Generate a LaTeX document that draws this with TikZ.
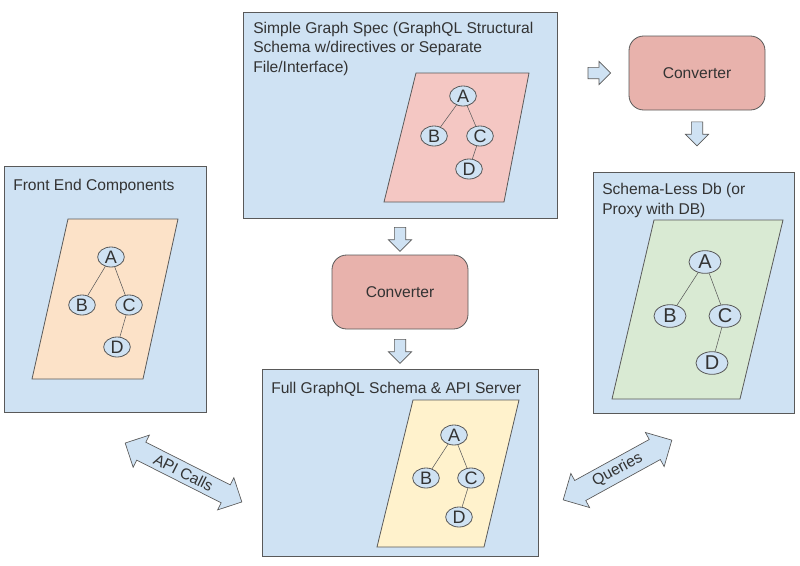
\documentclass[tikz,border=0pt]{standalone}
\usepackage{fontspec}
\setmainfont{Liberation Sans}
\usetikzlibrary{shapes.geometric,shapes.arrows}

\definecolor{boxblue}{HTML}{CFE2F3}
\definecolor{convred}{HTML}{E8B2AC}
\definecolor{linegray}{HTML}{595959}
\definecolor{textgray}{HTML}{333333}
\definecolor{pinksheet}{HTML}{F4C7C3}
\definecolor{peachsheet}{HTML}{FCE2C8}
\definecolor{greensheet}{HTML}{D9EAD3}
\definecolor{yellowsheet}{HTML}{FFF2CC}

\begin{document}
\begin{tikzpicture}[x=0.75pt,y=-0.75pt,font=\fontsize{11.7}{14.3}\selectfont,text=textgray]

\tikzset{
    panel/.style={draw=linegray,fill=boxblue,line width=0.6pt},
    sheet/.style={draw=linegray,line width=0.6pt},
    title/.style={anchor=base west,inner sep=0pt,align=left},
    conv/.style={draw=linegray,fill=convred,rounded corners=11pt,minimum width=102pt,minimum height=55.5pt,line width=0.6pt},
    leaf/.style={ellipse,draw=linegray,fill=boxblue,inner sep=0pt,minimum width=20pt,minimum height=15pt,line width=0.6pt,font=\fontsize{13.5}{14}\selectfont},
    bigleaf/.style={leaf,minimum width=24pt,minimum height=17pt,font=\fontsize{15}{16}\selectfont},
    smallarrow/.style={single arrow,draw=linegray,fill=boxblue,line width=0.5pt,inner sep=4pt,single arrow head extend=4.5pt,minimum height=18pt},
    bigarrow/.style={double arrow,draw=linegray,fill=boxblue,line width=0.5pt,inner sep=3pt,double arrow head extend=6pt}}

\useasboundingbox (0,0) rectangle (800,565);

\draw[panel] (243,12) rectangle (557,218);
\draw[panel] (4,166) rectangle (206,412);
\draw[panel] (593,172) rectangle (794,413);
\draw[panel] (262,369) rectangle (538,556);

% base west sits on the last line
\node[title] (specT) at (253,72) {Simple Graph Spec (GraphQL Structural\\Schema w/directives or Separate\\File/Interface)};
\node[title] (frontT) at (13,190) {Front End Components};
\node[title] (dbT) at (602,214) {Schema-Less Db (or\\Proxy with DB)};
\node[title] (fullT) at (271,393) {Full GraphQL Schema \& API Server};

\filldraw[sheet,fill=pinksheet] (416,73) -- (529,73) -- (504,202) -- (384,202) -- cycle;
\filldraw[sheet,fill=peachsheet] (68,219) -- (178,219) -- (143,379) -- (32,379) -- cycle;
\filldraw[sheet,fill=greensheet] (654,220) -- (783,220) -- (740,399) -- (612,399) -- cycle;
\filldraw[sheet,fill=yellowsheet] (413,400) -- (519,400) -- (484,547) -- (377,547) -- cycle;

\node[leaf] (sA) at (463,96) {A};
\node[leaf] (sB) at (434,136) {B};
\node[leaf] (sC) at (480,136) {C};
\node[leaf] (sD) at (469,169) {D};

\node[leaf] (fA) at (111,257) {A};
\node[leaf] (fB) at (82,305) {B};
\node[leaf] (fC) at (129,305) {C};
\node[leaf] (fD) at (117,347) {D};

\node[bigleaf] (dA) at (705,262) {A};
\node[bigleaf] (dB) at (670,316) {B};
\node[bigleaf] (dC) at (725,316) {C};
\node[bigleaf] (dD) at (712,363) {D};

\node[leaf] (gA) at (454,435) {A};
\node[leaf] (gB) at (426,478) {B};
\node[leaf] (gC) at (471,478) {C};
\node[leaf] (gD) at (459,517) {D};

\draw[linegray] (sB) -- (sA) -- (sC) -- (sD);
\draw[linegray] (fB) -- (fA) -- (fC) -- (fD);
\draw[linegray] (dB) -- (dA) -- (dC) -- (dD);
\draw[linegray] (gB) -- (gA) -- (gC) -- (gD);

\node[conv] (conv1) at (697,73) {Converter};
\node[conv] (conv2) at (400,292) {Converter};

\node[smallarrow,minimum height=17pt] (arr1) at (596.5,73) {};
\node[smallarrow,rotate=-90] (arr2) at (697,131) {};
\node[smallarrow,rotate=-90] (arr3) at (400,236.5) {};
\node[smallarrow,rotate=-90] (arr4) at (400,348.5) {};

\node[bigarrow,minimum height=98pt,rotate=-26.8] (api) at (183.5,472.5) {API Calls};
\node[bigarrow,minimum height=93pt,rotate=28.8] (queries) at (617.5,470) {Queries};

\end{tikzpicture}
\end{document}
